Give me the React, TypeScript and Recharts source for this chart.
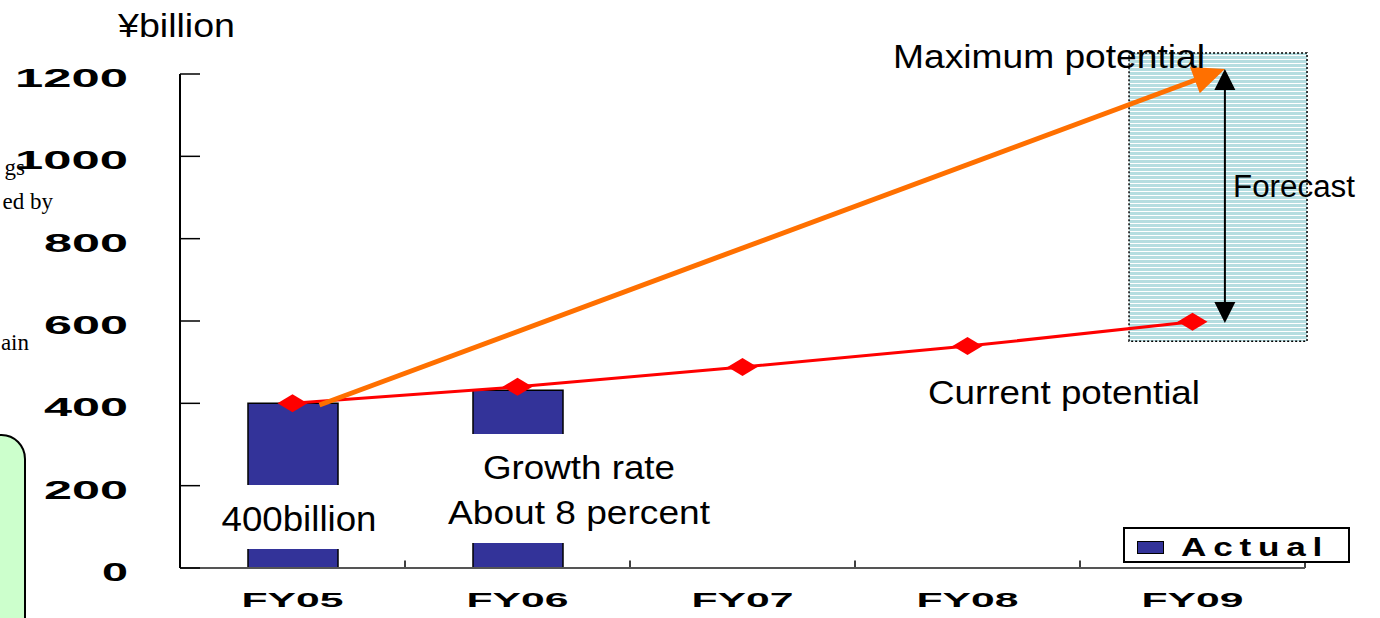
import React from "react";
import { ComposedChart, Bar, Line, XAxis, YAxis, ReferenceLine, ReferenceArea, Legend } from "recharts";

const years = ["FY05", "FY06", "FY07", "FY08", "FY09"];
const actual = [400, 432, null, null, null];
const currentPotential = [400, 440, 488, 539, 598];
const yTicks = [0, 200, 400, 600, 800, 1000, 1200];

// annotation anchors, x in band units (0..5) on a hidden numeric axis
const maxArrow = [{ x: 0.62, y: 396 }, { x: 4.644, y: 1212 }];
const forecastArrow = [{ x: 4.644, y: 1212 }, { x: 4.644, y: 595 }];
const forecastBox = { x1: 4.218, x2: 5.009, y1: 551, y2: 1251 };
const bandEdges = [1, 2, 3, 4, 5];

const data = years.map((fy, i) => ({ fy, pos: i + 0.5, actual: actual[i], current: currentPotential[i] }));

const SANS = "'Liberation Sans', Arial, sans-serif";
const SERIF = "'Liberation Serif', serif";

const arrowShape = (color: string, width: number, head: number, len: number, both: boolean) => (p: any) => {
  const { x1, y1, x2, y2 } = p;
  const a = Math.atan2(y2 - y1, x2 - x1);
  const tri = (tx: number, ty: number, ang: number) => {
    const bx = tx - len * Math.cos(ang);
    const by = ty - len * Math.sin(ang);
    const nx = (-Math.sin(ang) * head) / 2;
    const ny = (Math.cos(ang) * head) / 2;
    return `M${tx},${ty}L${bx + nx},${by + ny}L${bx - nx},${by - ny}Z`;
  };
  const sx = both ? x1 + (len - 2) * Math.cos(a) : x1;
  const sy = both ? y1 + (len - 2) * Math.sin(a) : y1;
  const ex = x2 - (len - 2) * Math.cos(a);
  const ey = y2 - (len - 2) * Math.sin(a);
  return (
    <g>
      <line x1={sx} y1={sy} x2={ex} y2={ey} stroke={color} strokeWidth={width} />
      <path d={tri(x2, y2, a)} fill={color} />
      {both && <path d={tri(x1, y1, a + Math.PI)} fill={color} />}
    </g>
  );
};

const StripedBox = (p: any) => {
  const { x, y, width, height } = p;
  return (
    <g>
      <defs>
        <pattern id="stripes" width="8" height="4" patternUnits="userSpaceOnUse">
          <rect width="8" height="4" fill="#b5dde0" />
          <rect y="3" width="8" height="1" fill="#ffffff" />
        </pattern>
      </defs>
      <rect x={x} y={y} width={width} height={height} fill="url(#stripes)" stroke="#000" strokeWidth={1.5} strokeDasharray="2 2" />
    </g>
  );
};

const Diamond = (p: any) => {
  const { cx, cy, index } = p;
  if (cx == null || cy == null) return null;
  return <path key={`d-${index}`} d={`M${cx - 15},${cy}L${cx},${cy - 9}L${cx + 15},${cy}L${cx},${cy + 9}Z`} fill="#ff0000" />;
};

const YTick = (p: any) => {
  const { x, y, payload } = p;
  const s = String(payload.value);
  return (
    <text x={x} y={y + 13} textAnchor="end" fontFamily={SANS} fontWeight="bold" fontSize={26} fill="#000"
      textLength={s.length * 29 - 3} lengthAdjust="spacingAndGlyphs">{s}</text>
  );
};

const XTick = (p: any) => {
  const { x, y, payload } = p;
  return (
    <text x={x} y={y + 39} textAnchor="middle" fontFamily={SANS} fontWeight="bold" fontSize={20} fill="#000"
      textLength={102} lengthAdjust="spacingAndGlyphs">{payload.value}</text>
  );
};

const LegendBox = (p: any) => {
  const items = (p.payload || []).filter((e: any) => e.dataKey === "actual");
  return (
    <div style={{ width: 227, height: 36, boxSizing: "border-box", border: "2px solid #000", background: "#fff", position: "relative" }}>
      {items.map((e: any) => (
        <div key={e.value}>
          <div style={{ position: "absolute", left: 12, top: 12, width: 27, height: 13, boxSizing: "border-box", background: "#333399", border: "1px solid #000" }} />
          <svg width={170} height={34} style={{ position: "absolute", left: 50, top: 0 }}>
            <text x={6} y={27} fontFamily={SANS} fontWeight="bold" fontSize={26} letterSpacing={5} textLength={148} lengthAdjust="spacingAndGlyphs">{e.value}</text>
          </svg>
        </div>
      ))}
    </div>
  );
};

export default function App() {
  return (
    <div style={{ position: "fixed", left: 0, top: 0, width: 1380, height: 618, background: "#fff", overflow: "hidden", fontFamily: SANS }}>
      <style>{"html,body{margin:0;overflow:hidden}"}</style>
      <ComposedChart width={1380} height={618} data={data} margin={{ top: 74, right: 75, bottom: 0, left: 120 }}>
        <XAxis dataKey="fy" height={50} tickLine={false} tickSize={0} tickMargin={0} axisLine={{ stroke: "#555", strokeWidth: 2 }} tick={XTick} />
        <XAxis xAxisId="num" dataKey="pos" type="number" domain={[0, 5]} allowDataOverflow hide />
        <YAxis width={60} domain={[0, 1200]} ticks={yTicks} tickSize={-20} tickMargin={72} interval={0}
          axisLine={{ stroke: "#000", strokeWidth: 2 }} tickLine={{ stroke: "#000", strokeWidth: 1.5 }} tick={YTick} />
        <ReferenceArea xAxisId="num" x1={forecastBox.x1} x2={forecastBox.x2} y1={forecastBox.y1} y2={forecastBox.y2} ifOverflow="visible" shape={StripedBox} />
        {bandEdges.map((e) => (
          <ReferenceLine key={e} xAxisId="num" segment={[{ x: e, y: 0 }, { x: e, y: 18 }]} stroke="#000" strokeWidth={1.5} />
        ))}
        <Bar dataKey="actual" name="Actual" fill="#333399" stroke="#000" strokeWidth={1.5} barSize={90} isAnimationActive={false} />
        <Line dataKey="current" legendType="none" stroke="#ff0000" strokeWidth={3} dot={Diamond} activeDot={false} isAnimationActive={false} />
        <ReferenceLine xAxisId="num" segment={maxArrow} ifOverflow="visible" shape={arrowShape("#ff7000", 5, 28, 32, false)} />
        <ReferenceLine xAxisId="num" segment={forecastArrow} ifOverflow="visible" shape={arrowShape("#000", 2, 21, 21, true)} />
        <Legend layout="horizontal" verticalAlign="middle" align="center" wrapperStyle={{ left: 1123, top: 527, width: 227, height: 36 }} content={LegendBox} />
      </ComposedChart>

      <svg width={1380} height={618} style={{ position: "absolute", left: 0, top: 0, pointerEvents: "none" }}>
        {/* bits of the neighbouring slide, cut off at the left edge */}
        <rect x={-22} y={435} width={47} height={220} rx={24} fill="#ccffcc" stroke="#000" strokeWidth={2} />
        <text x={25} y={175} textAnchor="end" fontFamily={SERIF} fontSize={23}>gs</text>
        <text x={53} y={209} textAnchor="end" fontFamily={SERIF} fontSize={23}>ed by</text>
        <text x={29} y={350} textAnchor="end" fontFamily={SERIF} fontSize={23}>ain</text>

        <text x={118} y={37} fontSize={34} fontFamily={SANS} textLength={117} lengthAdjust="spacingAndGlyphs">¥billion</text>
        <text x={893} y={68} fontSize={34} fontFamily={SANS} textLength={312} lengthAdjust="spacingAndGlyphs">Maximum potential</text>
        <text x={1233} y={197} fontSize={31} fontFamily={SANS} textLength={122} lengthAdjust="spacingAndGlyphs">Forecast</text>
        <text x={928} y={404} fontSize={34} fontFamily={SANS} textLength={272} lengthAdjust="spacingAndGlyphs">Current potential</text>

        <rect x={216} y={485} width={166} height={64} fill="#fff" />
        <text x={299} y={531} textAnchor="middle" fontSize={35} fontFamily={SANS} textLength={155} lengthAdjust="spacingAndGlyphs">400billion</text>

        <rect x={445} y={434} width={268} height={109} fill="#fff" />
        <text x={579} y={479} textAnchor="middle" fontSize={34} fontFamily={SANS} textLength={192} lengthAdjust="spacingAndGlyphs">Growth rate</text>
        <text x={579} y={524} textAnchor="middle" fontSize={34} fontFamily={SANS} textLength={262} lengthAdjust="spacingAndGlyphs">About 8 percent</text>
      </svg>
    </div>
  );
}
